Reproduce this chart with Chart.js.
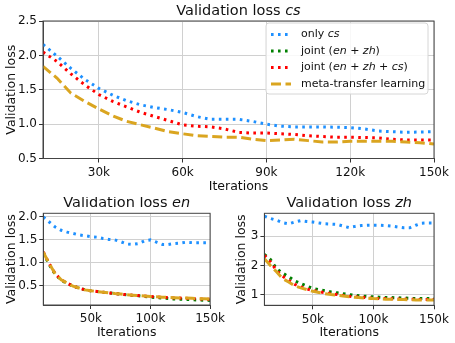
<!DOCTYPE html>
<html>
<head>
<meta charset="utf-8">
<script src="https://cdn.jsdelivr.net/npm/chart.js@4.4.1/dist/chart.umd.min.js"></script>
<style>
  html, body { margin: 0; padding: 0; background: #fff; }
  #wrap { position: relative; width: 455px; height: 343px; overflow: hidden; }
  canvas { position: absolute; }
</style>
</head>
<body>
<div id="wrap">
  <canvas id="csChart" width="455" height="197" style="left:0;top:0"></canvas>
  <canvas id="enChart" width="228" height="146" style="left:0;top:197px"></canvas>
  <canvas id="zhChart" width="227" height="146" style="left:228px;top:197px"></canvas>
</div>
<script>
// iterations (x values, shared by all panels)
const iterations = [10000, 15000, 20000, 25000, 30000, 35000, 40000, 45000, 50000, 55000,
  60000, 65000, 70000, 75000, 80000, 85000, 90000, 95000, 100000, 105000,
  110000, 115000, 120000, 125000, 130000, 135000, 140000, 145000, 150000];

// top panel: validation loss cs
const csOnly = [2.16, 1.99, 1.81, 1.65, 1.52, 1.42, 1.34, 1.28, 1.24, 1.21, 1.17, 1.11, 1.07, 1.07, 1.07,
  1.04, 1.00, 0.97, 0.96, 0.96, 0.96, 0.955, 0.95, 0.93, 0.90, 0.89, 0.88, 0.885, 0.89];
const csJointAll = [2.05, 1.91, 1.73, 1.57, 1.43, 1.33, 1.25, 1.17, 1.11, 1.05, 0.99, 0.97, 0.96, 0.93, 0.88,
  0.87, 0.87, 0.86, 0.85, 0.83, 0.82, 0.81, 0.81, 0.805, 0.80, 0.78, 0.77, 0.77, 0.77];
const csMeta = [1.84, 1.67, 1.45, 1.33, 1.22, 1.12, 1.04, 0.99, 0.94, 0.89, 0.86, 0.83, 0.82, 0.81, 0.81,
  0.78, 0.76, 0.77, 0.78, 0.76, 0.74, 0.74, 0.75, 0.75, 0.75, 0.75, 0.74, 0.73, 0.71];

// bottom left: validation loss en
const enOnly = [2.00, 1.89, 1.78, 1.71, 1.67, 1.64, 1.61, 1.59, 1.57, 1.56, 1.53, 1.51, 1.50, 1.46, 1.41,
  1.40, 1.42, 1.48, 1.50, 1.45, 1.40, 1.40, 1.42, 1.43, 1.45, 1.44, 1.44, 1.44, 1.44];
const enJointEnZh = [1.22, 0.96, 0.75, 0.62, 0.55, 0.49, 0.45, 0.41, 0.39, 0.375, 0.36, 0.345, 0.33, 0.315, 0.30,
  0.29, 0.28, 0.265, 0.25, 0.24, 0.23, 0.22, 0.21, 0.205, 0.20, 0.195, 0.19, 0.185, 0.18];
const enJointAll = [1.24, 0.98, 0.76, 0.63, 0.56, 0.49, 0.45, 0.41, 0.39, 0.375, 0.36, 0.345, 0.33, 0.315, 0.305,
  0.295, 0.285, 0.275, 0.265, 0.255, 0.25, 0.24, 0.235, 0.23, 0.225, 0.22, 0.215, 0.21, 0.205];
const enMeta = [1.23, 0.98, 0.76, 0.63, 0.56, 0.49, 0.45, 0.41, 0.39, 0.375, 0.36, 0.345, 0.33, 0.32, 0.305,
  0.295, 0.285, 0.275, 0.265, 0.26, 0.25, 0.245, 0.24, 0.235, 0.23, 0.225, 0.22, 0.215, 0.21];

// bottom right: validation loss zh
const zhOnly = [3.69, 3.61, 3.55, 3.47, 3.43, 3.49, 3.54, 3.51, 3.49, 3.46, 3.43, 3.42, 3.41, 3.35, 3.30,
  3.34, 3.37, 3.38, 3.38, 3.38, 3.37, 3.35, 3.32, 3.29, 3.29, 3.38, 3.45, 3.46, 3.46];
const zhJointEnZh = [2.38, 2.20, 1.89, 1.74, 1.61, 1.47, 1.38, 1.29, 1.21, 1.17, 1.13, 1.09, 1.06, 1.03, 1.00,
  0.97, 0.95, 0.935, 0.92, 0.91, 0.90, 0.895, 0.89, 0.88, 0.87, 0.865, 0.86, 0.86, 0.86];
const zhJointAll = [2.35, 2.12, 1.83, 1.63, 1.49, 1.35, 1.26, 1.19, 1.14, 1.10, 1.06, 1.03, 1.00, 0.97, 0.94,
  0.925, 0.91, 0.89, 0.87, 0.865, 0.86, 0.855, 0.85, 0.845, 0.84, 0.835, 0.83, 0.83, 0.83];
const zhMeta = [2.23, 2.00, 1.78, 1.55, 1.43, 1.30, 1.23, 1.17, 1.11, 1.07, 1.03, 1.00, 0.98, 0.95, 0.92,
  0.905, 0.89, 0.875, 0.86, 0.85, 0.84, 0.835, 0.83, 0.825, 0.82, 0.815, 0.81, 0.81, 0.81];

// tick labels
const csXTicks = [30000, 60000, 90000, 120000, 150000];
const csYTicks = [0.5, 1.0, 1.5, 2.0, 2.5];
const smallXTicks = [50000, 100000, 150000];
const enYTicks = [0.5, 1.0, 1.5, 2.0];
const zhYTicks = [1, 2, 3];

// legend labels, [text, italic] segments
const legendLabels = [
  [['only ', 0], ['cs', 1]],
  [['joint (', 0], ['en', 1], [' + ', 0], ['zh', 1], [')', 0]],
  [['joint (', 0], ['en', 1], [' + ', 0], ['zh', 1], [' + ', 0], ['cs', 1], [')', 0]],
  [['meta-transfer learning', 0]]
];

const FONT = 'DejaVu Sans';
const TXT = '#111';
const TICK_SIZE = 12;
const LABEL_SIZE = 12.5;
const STYLES = {
  only:  { borderColor: '#1e90ff', borderWidth: 3, borderDash: [2.6, 4.4] },
  joint: { borderColor: '#008000', borderWidth: 3, borderDash: [2.6, 4.4] },
  all:   { borderColor: '#ff0000', borderWidth: 3, borderDash: [2.6, 4.4] },
  meta:  { borderColor: '#daa520', borderWidth: 3, borderDash: [10, 4.5] }
};
const legendStyles = [STYLES.only, STYLES.joint, STYLES.all, STYLES.meta];

function pts(vals) { return iterations.map((x, i) => ({ x, y: vals[i] })); }

function drawRich(ctx, segs, x, y, size, align) {
  let w = 0;
  segs.forEach(([t, it]) => { ctx.font = (it ? 'oblique ' : '') + size + 'px "' + FONT + '"'; w += ctx.measureText(t).width; });
  let cx = align === 'center' ? x - w / 2 : x;
  ctx.textBaseline = 'middle';
  ctx.textAlign = 'left';
  ctx.fillStyle = TXT;
  segs.forEach(([t, it]) => {
    ctx.font = (it ? 'oblique ' : '') + size + 'px "' + FONT + '"';
    ctx.fillText(t, cx, y);
    cx += ctx.measureText(t).width;
  });
}

const decor = {
  id: 'decor',
  afterDatasetsDraw(chart, args, o) {
    const { ctx, chartArea: a } = chart;
    ctx.save();
    ctx.strokeStyle = '#444';
    ctx.lineWidth = 1;
    ctx.strokeRect(a.left, a.top, a.right - a.left, a.bottom - a.top);
    drawRich(ctx, o.title, (a.left + a.right) / 2, a.top - o.titleGap, 14.5, 'center');
    if (o.legend) {
      const bx = 266, by = 23, bw = 162, bh = 71;
      ctx.beginPath();
      ctx.roundRect(bx, by, bw, bh, 3);
      ctx.fillStyle = 'rgba(255,255,255,0.85)';
      ctx.fill();
      ctx.strokeStyle = '#d6d6d6';
      ctx.stroke();
      legendLabels.forEach((segs, i) => {
        const y = 34.5 + i * 16.5;
        const s = legendStyles[i];
        ctx.beginPath();
        ctx.setLineDash(s.borderDash);
        ctx.strokeStyle = s.borderColor;
        ctx.lineWidth = s.borderWidth;
        ctx.moveTo(271, y);
        ctx.lineTo(291, y);
        ctx.stroke();
        ctx.setLineDash([]);
        drawRich(ctx, segs, 301, y, 11, 'left');
      });
    }
    ctx.restore();
  }
};

function makeChart(id, cfg) {
  const canvas = document.getElementById(id);
  const H = canvas.height, W = canvas.width;
  const a = cfg.area;
  const datasets = cfg.series.map(([vals, st]) => Object.assign({
    data: pts(vals), pointRadius: 0, tension: 0, fill: false, borderCapStyle: 'butt'
  }, st));
  return new Chart(canvas, {
    type: 'line',
    data: { datasets },
    plugins: [decor],
    options: {
      responsive: false,
      animation: false,
      events: [],
      layout: { padding: { left: 0, top: a.top, right: W - a.right, bottom: 0 } },
      plugins: {
        legend: { display: false },
        tooltip: { enabled: false },
        decor: { title: cfg.title, titleGap: cfg.titleGap, legend: cfg.legend }
      },
      scales: {
        x: {
          type: 'linear', min: 10000, max: 150000,
          afterBuildTicks: s => { s.ticks = cfg.xTicks.map(v => ({ value: v })); },
          afterFit: s => { s.height = H - a.bottom; },
          ticks: { callback: v => (v / 1000) + 'k', font: { family: FONT, size: TICK_SIZE }, color: TXT, padding: 3, maxRotation: 0 },
          grid: { color: '#d0d0d0', lineWidth: 1, tickLength: 4, tickColor: '#333' },
          border: { color: '#444' },
          title: { display: true, text: 'Iterations', font: { family: FONT, size: LABEL_SIZE }, color: TXT, padding: { top: 0, bottom: 3 } }
        },
        y: {
          min: cfg.yMin, max: cfg.yMax,
          afterBuildTicks: s => { s.ticks = cfg.yTicks.map(v => ({ value: v })); },
          afterFit: s => { s.width = a.left; },
          ticks: { callback: v => v.toFixed(cfg.yDec), font: { family: FONT, size: TICK_SIZE }, color: TXT, padding: 2 },
          grid: { color: '#d0d0d0', lineWidth: 1, tickLength: 4, tickColor: '#333' },
          border: { color: '#444' },
          title: { display: true, text: 'Validation loss', font: { family: FONT, size: LABEL_SIZE }, color: TXT, padding: { top: cfg.yTitlePad, bottom: 0 } }
        }
      }
    }
  });
}

// top panel
makeChart('csChart', {
  area: { left: 43, right: 434, top: 21, bottom: 158.5 },
  series: [[csMeta, STYLES.meta], [csJointAll, STYLES.all], [csOnly, STYLES.only]],
  xTicks: csXTicks, yTicks: csYTicks, yMin: 0.5, yMax: 2.5, yDec: 1, yTitlePad: 4,
  title: [['Validation loss ', 0], ['cs', 1]], titleGap: 10, legend: true
});

// bottom left
makeChart('enChart', {
  area: { left: 43.3, right: 212.3, top: 16.3, bottom: 108 },
  series: [[enMeta, STYLES.meta], [enJointAll, STYLES.all], [enJointEnZh, STYLES.joint], [enOnly, STYLES.only]],
  xTicks: smallXTicks, yTicks: enYTicks, yMin: 0.08, yMax: 2.08, yDec: 1, yTitlePad: 4,
  title: [['Validation loss ', 0], ['en', 1]], titleGap: 10, legend: false
});

// bottom right
makeChart('zhChart', {
  area: { left: 36.4, right: 206, top: 16.3, bottom: 108.3 },
  series: [[zhMeta, STYLES.meta], [zhJointAll, STYLES.all], [zhJointEnZh, STYLES.joint], [zhOnly, STYLES.only]],
  xTicks: smallXTicks, yTicks: zhYTicks, yMin: 0.63, yMax: 3.79, yDec: 0, yTitlePad: 6,
  title: [['Validation loss ', 0], ['zh', 1]], titleGap: 10, legend: false
});
</script>
</body>
</html>
